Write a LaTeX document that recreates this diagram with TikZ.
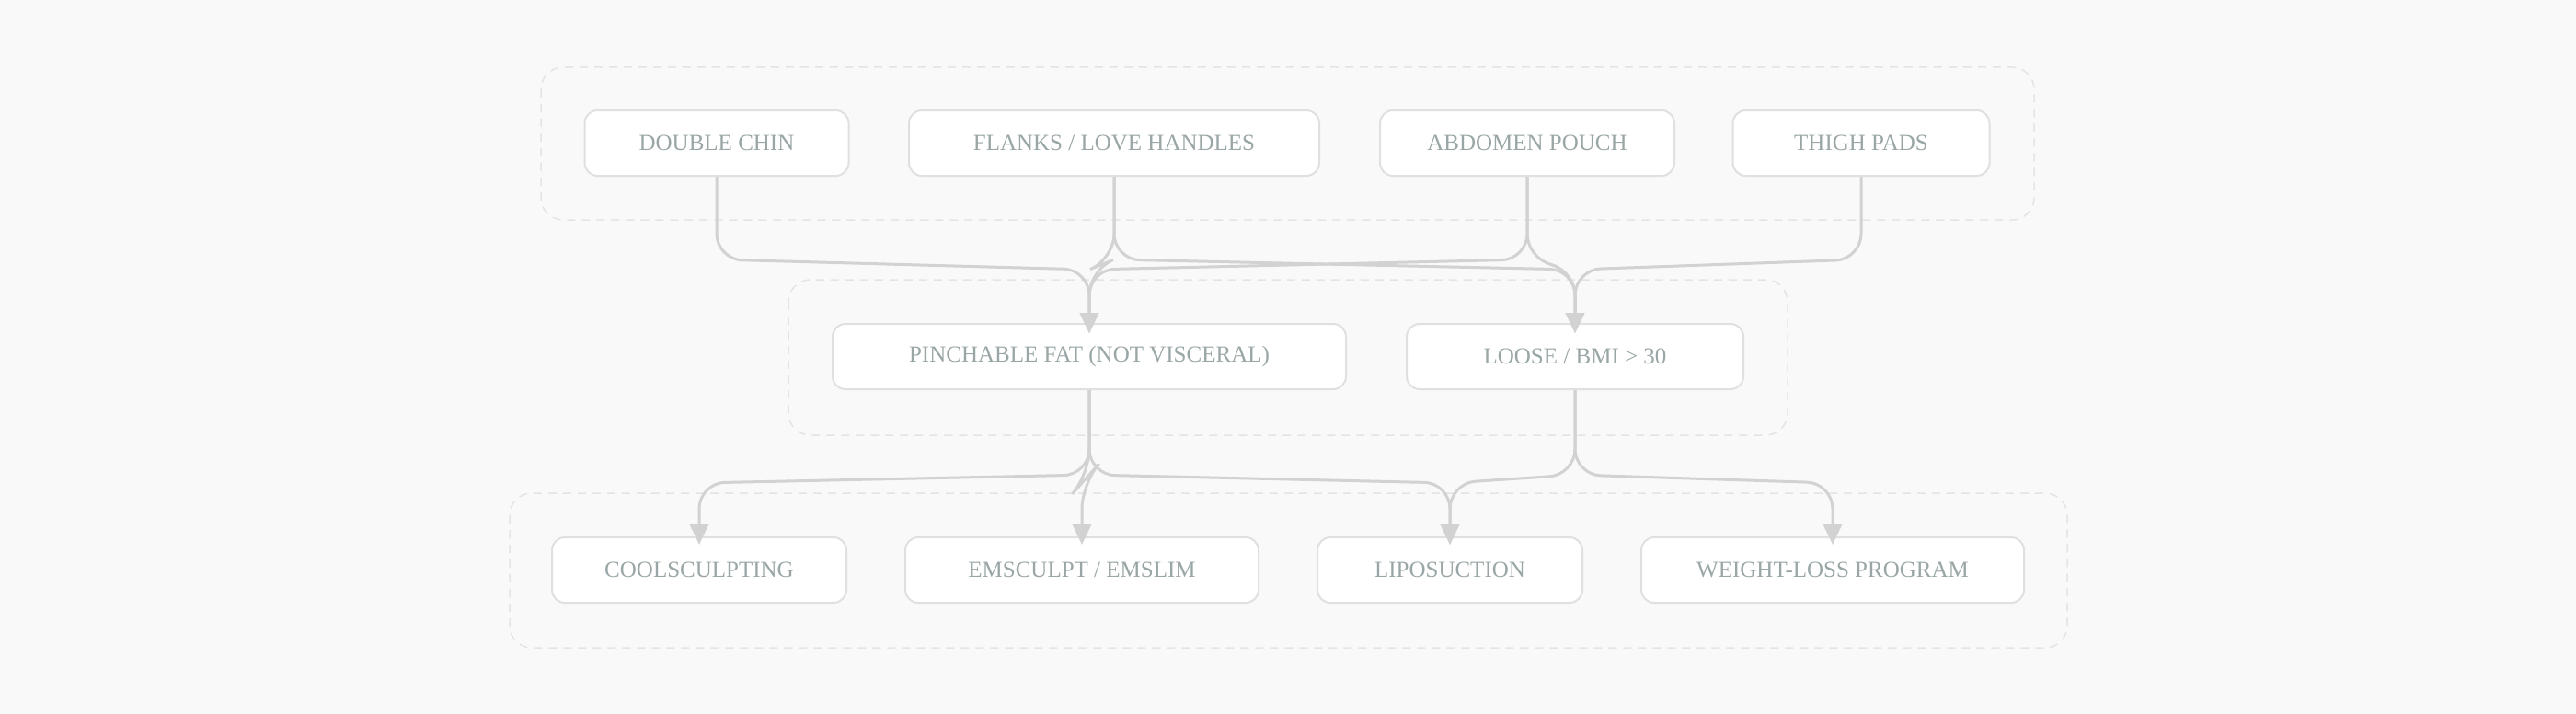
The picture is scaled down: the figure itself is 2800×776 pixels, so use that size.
\documentclass[tikz,border=0pt]{standalone}
\usepackage{fontspec}
\setmainfont{Liberation Serif}
\usetikzlibrary{arrows.meta}
\definecolor{bg}{HTML}{F9F9F9}
\definecolor{grp}{HTML}{E4E4E4}
\definecolor{bx}{HTML}{E0E0E0}
\definecolor{txt}{HTML}{9AA6A6}
\definecolor{ln}{HTML}{D2D2D2}
\begin{document}
\begin{tikzpicture}[x=1pt,y=-1pt,
  grp/.style={draw=grp,dashed,dash pattern=on 9pt off 7pt,line width=1.5pt,rounded corners=24pt},
  box/.style={draw=bx,fill=white,line width=2pt,rounded corners=14pt,text=txt,font=\fontsize{25}{30}\selectfont},
  edge/.style={draw=ln,line width=3pt,rounded corners=28pt,-{Triangle[length=22pt,width=20pt]}}]
\fill[bg] (0,0) rectangle (2800,776);
\useasboundingbox (0,0) rectangle (2800,776);
\draw[grp] (588,73) rectangle (2211,239);
\draw[grp] (857,304) rectangle (1943,473);
\draw[grp] (554,536) rectangle (2247,704);
\newcommand\bx[5]{\path (#2,#3) rectangle (#4,#5); \node[box,minimum width=#4pt-#2pt,minimum height=#5pt-#3pt] (#1) at ({(#2+#4)/2},{(#3+#5)/2}) {};}
\node[box,minimum width=287pt,minimum height=71pt] (dc) at (779,155.5) {DOUBLE CHIN};
\node[box,minimum width=446pt,minimum height=71pt] (fl) at (1211,155.5) {FLANKS / LOVE HANDLES};
\node[box,minimum width=320pt,minimum height=71pt] (ab) at (1660,155.5) {ABDOMEN POUCH};
\node[box,minimum width=279pt,minimum height=71pt] (th) at (2023,155.5) {THIGH PADS};
\node[box,minimum width=558pt,minimum height=71pt] (pf) at (1184,387.5) {PINCHABLE FAT (NOT VISCERAL)};
\node[box,minimum width=366pt,minimum height=71pt] (lo) at (1712,387.5) {LOOSE / BMI > 30};
\node[box,minimum width=320pt,minimum height=71pt] (co) at (760,619.5) {COOLSCULPTING};
\node[box,minimum width=384pt,minimum height=71pt] (em) at (1176,619.5) {EMSCULPT / EMSLIM};
\node[box,minimum width=288pt,minimum height=71pt] (li) at (1576,619.5) {LIPOSUCTION};
\node[box,minimum width=416pt,minimum height=71pt] (wl) at (1992,619.5) {WEIGHT-LOSS PROGRAM};
\foreach \s/\t in {dc/pf,fl/pf,fl/lo,ab/pf,ab/lo,th/lo}
  \draw[edge] (\s.south) -- (\s.south |- 0,282) -- ([yshift=-11pt]\t.north |- 0,282) -- ([yshift=-11pt]\t.north);
\foreach \s/\t in {pf/co,pf/em,pf/li,lo/li,lo/wl}
  \draw[edge] (\s.south) -- (\s.south |- 0,516) -- ([yshift=-9pt]\t.north |- 0,516) -- ([yshift=-9pt]\t.north);
\end{tikzpicture}
\end{document}
